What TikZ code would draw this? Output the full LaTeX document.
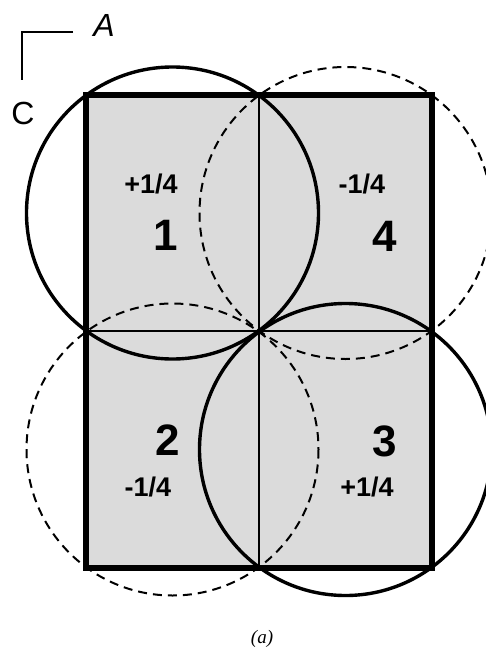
\documentclass[tikz,border=0pt]{standalone}
\usepackage{fontspec}
\setmainfont{Liberation Sans}
\newfontfamily\serifit{Liberation Serif}
\begin{document}
\begin{tikzpicture}[x=1pt,y=-1pt,
  solidc/.style={line width=3.4pt},
  dashc/.style={line width=2pt,dash pattern=on 9pt off 6pt},
  quadnum/.style={font=\fontsize{44}{44}\selectfont\bfseries},
  frac/.style={font=\fontsize{27}{27}\selectfont\bfseries},
  axislab/.style={font=\fontsize{32}{32}\selectfont}]
\useasboundingbox (0,0) rectangle (486,648);
\coordinate (TL) at (86,95);
\coordinate (BR) at (432,568);
\fill[gray!28] (TL) rectangle (BR);
\draw[line width=1.4pt] (259,95) -- (259,568);
\draw[line width=1.4pt] (86,331) -- (432,331);
% circles
\draw[dashc] (345.5,213) circle (146);
\draw[dashc] (172.5,449.5) circle (146);
\draw[solidc] (172.5,213) circle (146);
\draw[solidc] (345.5,449.5) circle (146);
\draw[line width=6pt] (TL) rectangle (BR);
% labels
\node[frac] (f1) at (151,184) {+1/4};
\node[quadnum] (n1) at (166,235) {1};
\node[frac] (f4) at (362,184) {-1/4};
\node[quadnum] (n4) at (385,236) {4};
\node[quadnum] (n2) at (168,440) {2};
\node[frac] (f2) at (148,487) {-1/4};
\node[quadnum] (n3) at (385,441) {3};
\node[frac] (f3) at (367,487) {+1/4};
% axes
\coordinate (ax) at (22,32);
\draw[line width=2.8pt] (73,32) -- (ax) -- (22,80);
\node[axislab,font=\fontsize{32}{32}\selectfont\itshape] (A) at (104,25) {A};
\node[axislab] (C) at (23,113) {C};
\node[font=\fontsize{19}{19}\selectfont\serifit\itshape] (cap) at (262,639) {(a)};
\end{tikzpicture}
\end{document}
